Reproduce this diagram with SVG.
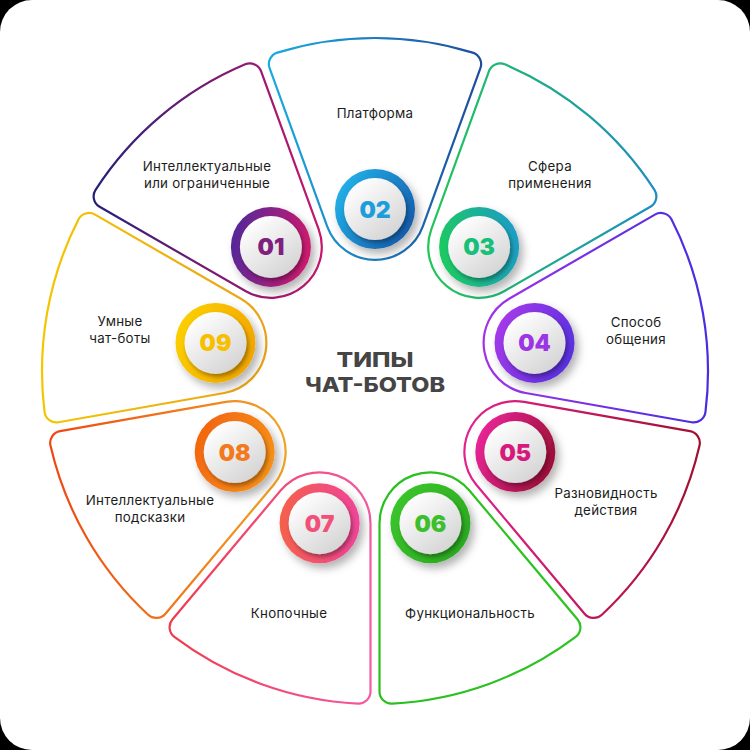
<svg xmlns="http://www.w3.org/2000/svg" width="750" height="750" viewBox="0 0 750 750">
<style>
.petal{fill:none;stroke-width:2.2;stroke-linejoin:round}
.lbl{font-family:Inter,"Noto Sans","DejaVu Sans",sans-serif;font-size:13.3px;letter-spacing:0.3px;fill:#1c1c1c;text-anchor:middle}
.num{font-family:Inter,"Noto Sans",sans-serif;font-weight:900;font-size:23px;text-anchor:middle}
.title{font-family:Inter,"Noto Sans",sans-serif;font-weight:800;font-size:20.4px;fill:#454545;text-anchor:middle}
</style>
<defs>
<filter id="sh" x="-50%" y="-50%" width="200%" height="200%"><feDropShadow dx="4" dy="5" stdDeviation="4" flood-color="#000" flood-opacity="0.3"/></filter>
<filter id="sh2" x="-50%" y="-50%" width="200%" height="200%"><feDropShadow dx="2" dy="3" stdDeviation="2" flood-color="#000" flood-opacity="0.35"/></filter>
<linearGradient id="disc" x1="0.15" y1="0.1" x2="0.8" y2="0.95"><stop offset="0" stop-color="#ffffff"/><stop offset="1" stop-color="#d4d4d4"/></linearGradient>
<linearGradient id="r1" x1="0" y1="0.4" x2="1" y2="0.6"><stop offset="0" stop-color="#53299a"/><stop offset="1" stop-color="#d1196c"/></linearGradient>
<linearGradient id="r2" x1="0" y1="0.2" x2="1" y2="0.8"><stop offset="0" stop-color="#22b4ea"/><stop offset="1" stop-color="#1658aa"/></linearGradient>
<linearGradient id="r3" x1="0" y1="0.6" x2="1" y2="0.4"><stop offset="0" stop-color="#1ccb5e"/><stop offset="1" stop-color="#1b9cc6"/></linearGradient>
<linearGradient id="r4" x1="0" y1="0.3" x2="1" y2="0.7"><stop offset="0" stop-color="#a63ae9"/><stop offset="1" stop-color="#552fe0"/></linearGradient>
<linearGradient id="r5" x1="0" y1="0.3" x2="1" y2="0.7"><stop offset="0" stop-color="#ea2699"/><stop offset="1" stop-color="#9a0e34"/></linearGradient>
<linearGradient id="r6" x1="0" y1="0.2" x2="1" y2="0.8"><stop offset="0" stop-color="#3cc62c"/><stop offset="1" stop-color="#2aa820"/></linearGradient>
<linearGradient id="r7" x1="0" y1="0.5" x2="1" y2="0.5"><stop offset="0" stop-color="#f5604a"/><stop offset="1" stop-color="#f0449a"/></linearGradient>
<linearGradient id="r8" x1="0" y1="0.3" x2="1" y2="0.7"><stop offset="0" stop-color="#f26510"/><stop offset="1" stop-color="#f7921a"/></linearGradient>
<linearGradient id="r9" x1="0" y1="0.3" x2="1" y2="0.7"><stop offset="0" stop-color="#fbd000"/><stop offset="1" stop-color="#f2a400"/></linearGradient>
<linearGradient id="s1" gradientUnits="userSpaceOnUse" x1="93" y1="0" x2="322" y2="0" gradientTransform="rotate(40 375 371)"><stop offset="0" stop-color="#23207a"/><stop offset="1" stop-color="#c7166d"/></linearGradient>
<linearGradient id="s2" gradientUnits="userSpaceOnUse" x1="268" y1="0" x2="482" y2="0"><stop offset="0" stop-color="#1aabdf"/><stop offset="1" stop-color="#1d4c9c"/></linearGradient>
<linearGradient id="s3" gradientUnits="userSpaceOnUse" x1="428" y1="0" x2="657" y2="0" gradientTransform="rotate(-40 375 371)"><stop offset="0" stop-color="#20c755"/><stop offset="1" stop-color="#1f8cc2"/></linearGradient>
<linearGradient id="s4" gradientUnits="userSpaceOnUse" x1="485" y1="0" x2="708" y2="0" gradientTransform="rotate(-80 375 371)"><stop offset="0" stop-color="#a132e8"/><stop offset="1" stop-color="#472de0"/></linearGradient>
<linearGradient id="s5" gradientUnits="userSpaceOnUse" x1="465" y1="0" x2="700" y2="0" gradientTransform="rotate(-120 375 371)"><stop offset="0" stop-color="#e2218f"/><stop offset="1" stop-color="#a20f2e"/></linearGradient>
<linearGradient id="s6" gradientUnits="userSpaceOnUse" x1="380" y1="0" x2="582" y2="0" gradientTransform="rotate(-160 375 371)"><stop offset="0" stop-color="#28bf1f"/><stop offset="1" stop-color="#2dc323"/></linearGradient>
<linearGradient id="s7" gradientUnits="userSpaceOnUse" x1="168" y1="0" x2="370" y2="0" gradientTransform="rotate(-200 375 371)"><stop offset="0" stop-color="#f03a4c"/><stop offset="1" stop-color="#f35aa0"/></linearGradient>
<linearGradient id="s8" gradientUnits="userSpaceOnUse" x1="48" y1="0" x2="285" y2="0" gradientTransform="rotate(-240 375 371)"><stop offset="0" stop-color="#ef4512"/><stop offset="1" stop-color="#f0a422"/></linearGradient>
<linearGradient id="s9" gradientUnits="userSpaceOnUse" x1="42" y1="0" x2="268" y2="0" gradientTransform="rotate(-280 375 371)"><stop offset="0" stop-color="#f3c600"/><stop offset="1" stop-color="#e9a218"/></linearGradient>
</defs>
<rect width="750" height="750" fill="#000"/>
<rect width="750" height="750" rx="32" fill="#fff"/>

<g id="node-01">
<path class="petal" stroke="url(#s1)" transform="rotate(-40 375 371)" d="M327.17 226.41 L269.59 68.21 A12 12 0 0 1 277.35 52.64 A333 333 0 0 1 472.65 52.64 A12 12 0 0 1 480.41 68.21 L422.83 226.41 A50.9 50.9 0 0 1 327.17 226.41 Z"/>
<g transform="translate(270.9 246.9)"><circle r="40" fill="url(#r1)" filter="url(#sh)"/><circle r="31" fill="url(#disc)" filter="url(#sh2)"/><text class="num" y="8.5" fill="#80207e">01</text></g>
<text class="lbl" x="207" y="171">Интеллектуальные</text>
<text class="lbl" x="207" y="188">или ограниченные</text>
</g>

<g id="node-02">
<path class="petal" stroke="url(#s2)" d="M327.17 226.41 L269.59 68.21 A12 12 0 0 1 277.35 52.64 A333 333 0 0 1 472.65 52.64 A12 12 0 0 1 480.41 68.21 L422.83 226.41 A50.9 50.9 0 0 1 327.17 226.41 Z"/>
<g transform="translate(375 209)"><circle r="40" fill="url(#r2)" filter="url(#sh)"/><circle r="31" fill="url(#disc)" filter="url(#sh2)"/><text class="num" y="8.5" fill="#1d9edc">02</text></g>
<text class="lbl" x="375" y="118">Платформа</text>
</g>

<g id="node-03">
<path class="petal" stroke="url(#s3)" transform="rotate(40 375 371)" d="M327.17 226.41 L269.59 68.21 A12 12 0 0 1 277.35 52.64 A333 333 0 0 1 472.65 52.64 A12 12 0 0 1 480.41 68.21 L422.83 226.41 A50.9 50.9 0 0 1 327.17 226.41 Z"/>
<g transform="translate(479.1 246.9)"><circle r="40" fill="url(#r3)" filter="url(#sh)"/><circle r="31" fill="url(#disc)" filter="url(#sh2)"/><text class="num" y="8.5" fill="#17c078">03</text></g>
<text class="lbl" x="550" y="171">Сфера</text>
<text class="lbl" x="550" y="188">применения</text>
</g>

<g id="node-04">
<path class="petal" stroke="url(#s4)" transform="rotate(80 375 371)" d="M327.17 226.41 L269.59 68.21 A12 12 0 0 1 277.35 52.64 A333 333 0 0 1 472.65 52.64 A12 12 0 0 1 480.41 68.21 L422.83 226.41 A50.9 50.9 0 0 1 327.17 226.41 Z"/>
<g transform="translate(534.5 342.9)"><circle r="40" fill="url(#r4)" filter="url(#sh)"/><circle r="31" fill="url(#disc)" filter="url(#sh2)"/><text class="num" y="8.5" fill="#9b35e6">04</text></g>
<text class="lbl" x="636" y="327">Способ</text>
<text class="lbl" x="636" y="344">общения</text>
</g>

<g id="node-05">
<path class="petal" stroke="url(#s5)" transform="rotate(120 375 371)" d="M327.17 226.41 L269.59 68.21 A12 12 0 0 1 277.35 52.64 A333 333 0 0 1 472.65 52.64 A12 12 0 0 1 480.41 68.21 L422.83 226.41 A50.9 50.9 0 0 1 327.17 226.41 Z"/>
<g transform="translate(515.3 452)"><circle r="40" fill="url(#r5)" filter="url(#sh)"/><circle r="31" fill="url(#disc)" filter="url(#sh2)"/><text class="num" y="8.5" fill="#d8197c">05</text></g>
<text class="lbl" x="606" y="498">Разновидность</text>
<text class="lbl" x="606" y="515">действия</text>
</g>

<g id="node-06">
<path class="petal" stroke="url(#s6)" transform="rotate(160 375 371)" d="M327.17 226.41 L269.59 68.21 A12 12 0 0 1 277.35 52.64 A333 333 0 0 1 472.65 52.64 A12 12 0 0 1 480.41 68.21 L422.83 226.41 A50.9 50.9 0 0 1 327.17 226.41 Z"/>
<g transform="translate(430.4 523.2)"><circle r="40" fill="url(#r6)" filter="url(#sh)"/><circle r="31" fill="url(#disc)" filter="url(#sh2)"/><text class="num" y="8.5" fill="#3cbf2c">06</text></g>
<text class="lbl" x="470" y="618">Функциональность</text>
</g>

<g id="node-07">
<path class="petal" stroke="url(#s7)" transform="rotate(200 375 371)" d="M327.17 226.41 L269.59 68.21 A12 12 0 0 1 277.35 52.64 A333 333 0 0 1 472.65 52.64 A12 12 0 0 1 480.41 68.21 L422.83 226.41 A50.9 50.9 0 0 1 327.17 226.41 Z"/>
<g transform="translate(319.6 523.2)"><circle r="40" fill="url(#r7)" filter="url(#sh)"/><circle r="31" fill="url(#disc)" filter="url(#sh2)"/><text class="num" y="8.5" fill="#f0507a">07</text></g>
<text class="lbl" x="289" y="618">Кнопочные</text>
</g>

<g id="node-08">
<path class="petal" stroke="url(#s8)" transform="rotate(240 375 371)" d="M327.17 226.41 L269.59 68.21 A12 12 0 0 1 277.35 52.64 A333 333 0 0 1 472.65 52.64 A12 12 0 0 1 480.41 68.21 L422.83 226.41 A50.9 50.9 0 0 1 327.17 226.41 Z"/>
<g transform="translate(234.7 452)"><circle r="40" fill="url(#r8)" filter="url(#sh)"/><circle r="31" fill="url(#disc)" filter="url(#sh2)"/><text class="num" y="8.5" fill="#f27a1c">08</text></g>
<text class="lbl" x="150" y="505">Интеллектуальные</text>
<text class="lbl" x="150" y="522">подсказки</text>
</g>

<g id="node-09">
<path class="petal" stroke="url(#s9)" transform="rotate(280 375 371)" d="M327.17 226.41 L269.59 68.21 A12 12 0 0 1 277.35 52.64 A333 333 0 0 1 472.65 52.64 A12 12 0 0 1 480.41 68.21 L422.83 226.41 A50.9 50.9 0 0 1 327.17 226.41 Z"/>
<g transform="translate(215.5 342.9)"><circle r="40" fill="url(#r9)" filter="url(#sh)"/><circle r="31" fill="url(#disc)" filter="url(#sh2)"/><text class="num" y="8.5" fill="#f6c000">09</text></g>
<text class="lbl" x="120" y="326">Умные</text>
<text class="lbl" x="120" y="343">чат-боты</text>
</g>

<g id="title">
<text class="title" x="375" y="367" textLength="77" lengthAdjust="spacingAndGlyphs">ТИПЫ</text>
<text class="title" x="375" y="392" textLength="140" lengthAdjust="spacingAndGlyphs">ЧАТ-БОТОВ</text>
</g>
</svg>
